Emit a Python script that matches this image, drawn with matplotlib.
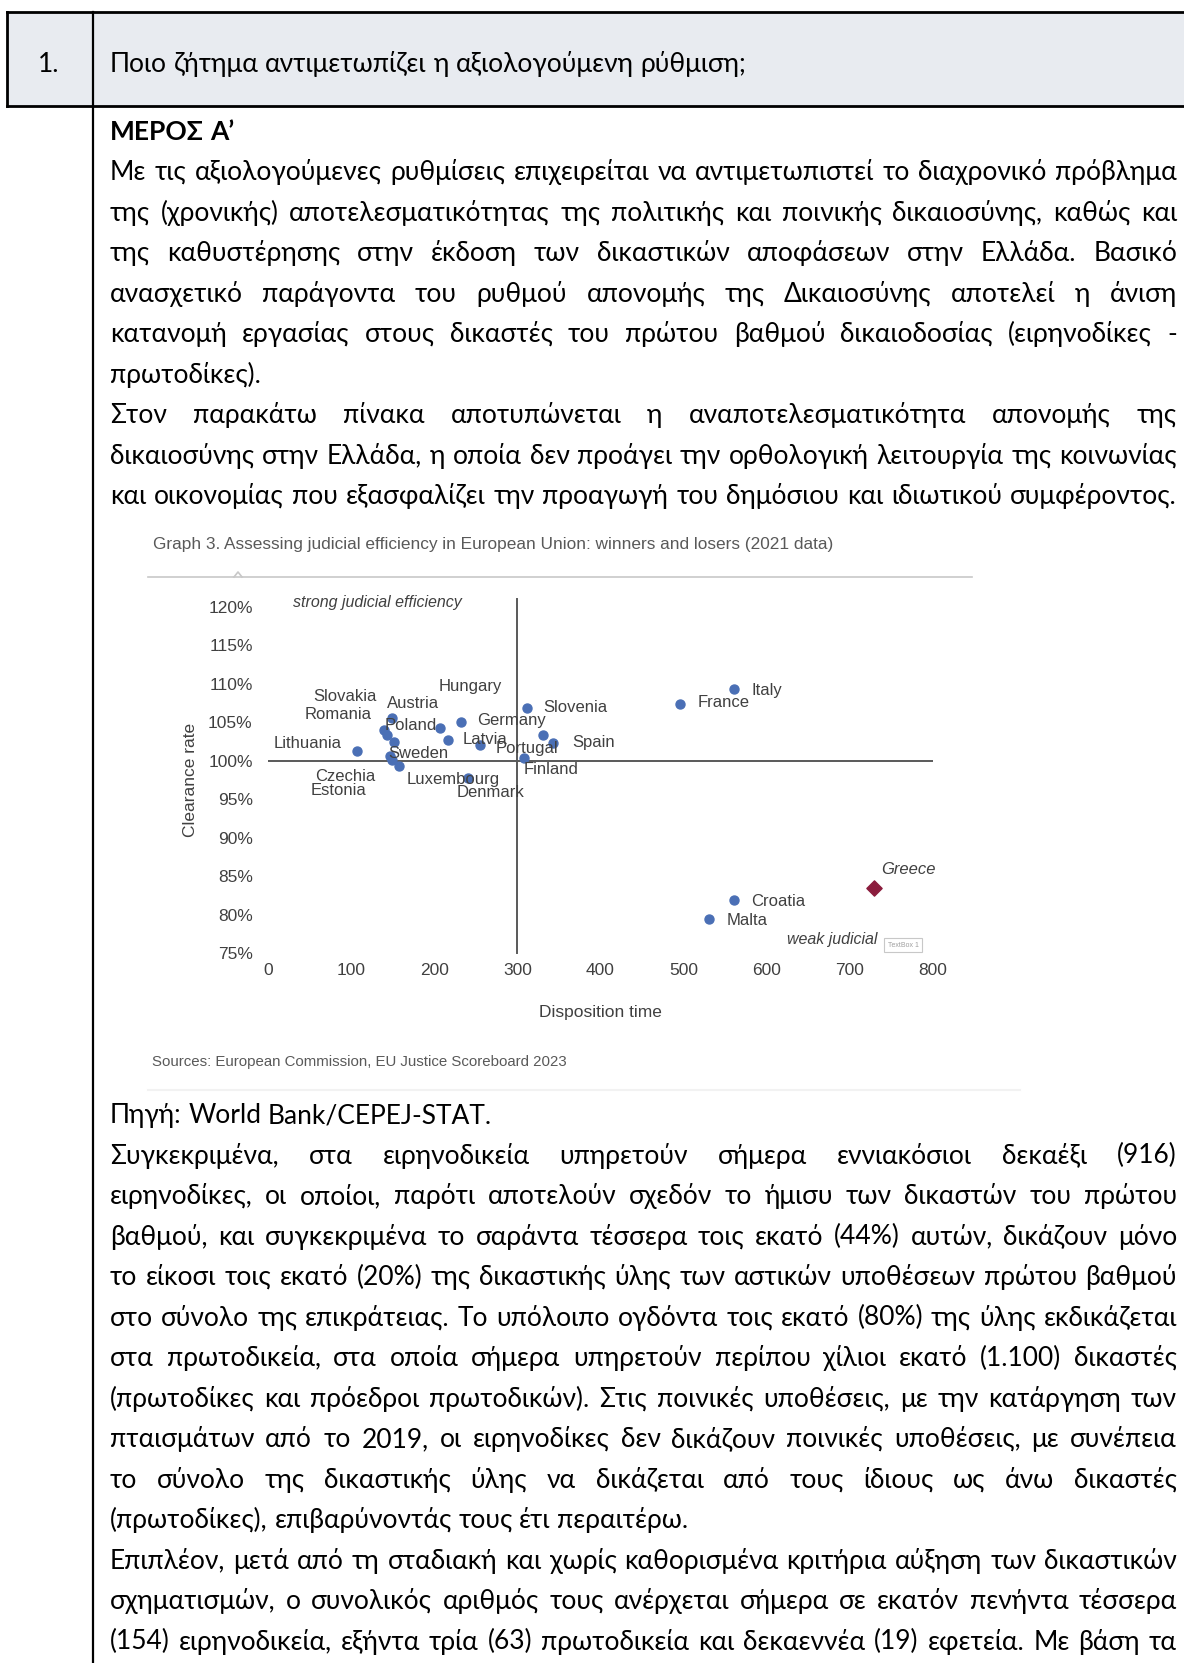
import matplotlib
matplotlib.use("Agg")
import matplotlib.pyplot as plt
from matplotlib import font_manager, ft2font

# ---- chart data: EU Justice Scoreboard 2023 (2021 data) ----
countries = ["Lithuania", "Slovakia", "Romania", "Austria", "Sweden", "Czechia", "Estonia",
             "Luxembourg", "Poland", "Germany", "Latvia", "Hungary", "Denmark", "Slovenia",
             "Portugal", "Finland", "Spain", "France", "Italy", "Croatia", "Malta"]
disposition = [107, 139, 143, 149, 151, 147, 149, 157, 207, 232, 217, 255, 241, 311,
               331, 308, 343, 496, 561, 561, 531]
clearance = [101.3, 104.0, 103.4, 105.5, 102.5, 100.6, 100.1, 99.3, 104.2, 105.0, 102.7,
             102.1, 97.7, 106.9, 103.3, 100.3, 102.3, 107.4, 109.4, 81.9, 79.4]
# where the data labels sit (label centres)
label_x = [48, 93, 84, 175, 181, 93, 85, 223, 172, 293, 261, 243, 268, 370,
           312, 340, 392, 548, 600, 614, 576]
label_y = [102.3, 108.3, 106.0, 107.5, 100.9, 97.9, 96.1, 97.6, 104.6, 105.3, 102.8,
           109.7, 95.9, 106.9, 101.6, 98.9, 102.4, 107.6, 109.2, 81.7, 79.2]
greece = ("Greece", 729, 83.5)
greece_label = (770, 85.8)

x_ticks = [0, 100, 200, 300, 400, 500, 600, 700, 800]
y_ticks = [75, 80, 85, 90, 95, 100, 105, 110, 115, 120]

# ---- document text ----
header_no = "1."
header_q = "Ποιο ζήτημα αντιμετωπίζει η αξιολογούμενη ρύθμιση;"
part_title = "ΜΕΡΟΣ Α’"
para_top = [
    ("Με τις αξιολογούμενες ρυθμίσεις επιχειρείται να αντιμετωπιστεί το διαχρονικό πρόβλημα", True),
    ("της (χρονικής) αποτελεσματικότητας της πολιτικής και ποινικής δικαιοσύνης, καθώς και", True),
    ("της καθυστέρησης στην έκδοση των δικαστικών αποφάσεων στην Ελλάδα. Βασικό", True),
    ("ανασχετικό παράγοντα του ρυθμού απονομής της Δικαιοσύνης αποτελεί η άνιση", True),
    ("κατανομή εργασίας στους δικαστές του πρώτου βαθμού δικαιοδοσίας (ειρηνοδίκες -", True),
    ("πρωτοδίκες).", False),
    ("Στον παρακάτω πίνακα αποτυπώνεται η αναποτελεσματικότητα απονομής της", True),
    ("δικαιοσύνης στην Ελλάδα, η οποία δεν προάγει την ορθολογική λειτουργία της κοινωνίας", True),
    ("και οικονομίας που εξασφαλίζει την προαγωγή του δημόσιου και ιδιωτικού συμφέροντος.", True),
]
para_bottom = [
    ("Πηγή: World Bank/CEPEJ-STAT.", False),
    ("Συγκεκριμένα, στα ειρηνοδικεία υπηρετούν σήμερα εννιακόσιοι δεκαέξι (916)", True),
    ("ειρηνοδίκες, οι οποίοι, παρότι αποτελούν σχεδόν το ήμισυ των δικαστών του πρώτου", True),
    ("βαθμού, και συγκεκριμένα το σαράντα τέσσερα τοις εκατό (44%) αυτών, δικάζουν μόνο", True),
    ("το είκοσι τοις εκατό (20%) της δικαστικής ύλης των αστικών υποθέσεων πρώτου βαθμού", True),
    ("στο σύνολο της επικράτειας. Το υπόλοιπο ογδόντα τοις εκατό (80%) της ύλης εκδικάζεται", True),
    ("στα πρωτοδικεία, στα οποία σήμερα υπηρετούν περίπου χίλιοι εκατό (1.100) δικαστές", True),
    ("(πρωτοδίκες και πρόεδροι πρωτοδικών). Στις ποινικές υποθέσεις, με την κατάργηση των", True),
    ("πταισμάτων από το 2019, οι ειρηνοδίκες δεν δικάζουν ποινικές υποθέσεις, με συνέπεια", True),
    ("το σύνολο της δικαστικής ύλης να δικάζεται από τους ίδιους ως άνω δικαστές", True),
    ("(πρωτοδίκες), επιβαρύνοντάς τους έτι περαιτέρω.", False),
    ("Επιπλέον, μετά από τη σταδιακή και χωρίς καθορισμένα κριτήρια αύξηση των δικαστικών", True),
    ("σχηματισμών, ο συνολικός αριθμός τους ανέρχεται σήμερα σε εκατόν πενήντα τέσσερα", True),
    ("(154) ειρηνοδικεία, εξήντα τρία (63) πρωτοδικεία και δεκαεννέα (19) εφετεία. Με βάση τα", True),
]


def has_greek(name):
    try:
        path = font_manager.findfont(name, fallback_to_default=False)
        return ft2font.FT2Font(path).get_char_index(ord("α")) != 0
    except Exception:
        return False


body_font = "DejaVu Sans"
for cand in ["Lato", "Roboto", "Noto Sans"]:
    if has_greek(cand):
        body_font = cand
        break
BODY = [body_font, "DejaVu Sans"]
CHART = ["Liberation Sans", "DejaVu Sans"]

W, H = 1184, 1663
fig = plt.figure(figsize=(W / 100, H / 100), dpi=100)
page = fig.add_axes([0, 0, 1, 1])
page.set_xlim(0, W)
page.set_ylim(H, 0)
page.axis("off")
renderer = fig.canvas.get_renderer()

# table frame
page.add_patch(plt.Rectangle((7, 12), W, 94, facecolor="#E8EBF0", edgecolor="none"))
page.plot([7, W], [12, 12], color="black", lw=2)
page.plot([7, W], [106, 106], color="black", lw=2)
page.plot([7, 7], [12, 106], color="black", lw=2)
page.plot([93, 93], [12, H], color="black", lw=1.6)

X0, X1 = 110, 1177


def width(s, size, weight="normal"):
    t = page.text(0, 0, s, fontsize=size, family=BODY, fontweight=weight)
    w = t.get_window_extent(renderer).width
    t.remove()
    return w


# pick the size at which the widest justified line just fits with normal spacing
widest = max(width(s, 20) for s, j in para_top + para_bottom if j)
size = 20 * (X1 - X0) * 0.99 / widest
space_w = width("a a", size) - width("aa", size)


def put_line(s, yc, justify, weight="normal", x0=X0):
    yb = yc + 0.36 * size * 100 / 72
    words = s.split(" ")
    objs = [page.text(0, yb, w, fontsize=size, family=BODY, fontweight=weight,
                      va="baseline", ha="left", color="black") for w in words]
    ws = [o.get_window_extent(renderer).width for o in objs]
    gap = (X1 - x0 - sum(ws)) / (len(ws) - 1) if justify and len(ws) > 1 else space_w
    x = x0
    for o, w in zip(objs, ws):
        o.set_x(x)
        x += w + gap


put_line(header_no, 62, False, x0=38)
put_line(header_q, 62, False)
put_line(part_title, 130, False, weight="bold")
S = 40.5
for i, (s, j) in enumerate(para_top):
    put_line(s, 130 + S * (i + 1), j)
last_y = 1640
for i, (s, j) in enumerate(para_bottom):
    put_line(s, last_y - S * (len(para_bottom) - 1 - i), j)

# ---- embedded chart ----
page.text(153, 545, "Graph 3. Assessing judicial efficiency in European Union: winners and losers (2021 data)",
          fontsize=12.4, family=CHART, color="#595959", va="center", ha="left")
page.plot([148, 972], [577, 577], color="#C8C8C8", lw=1.2)
page.plot([234, 238, 242], [577, 572, 577], color="#C8C8C8", lw=1.2)
page.text(152, 1062, "Sources: European Commission, EU Justice Scoreboard 2023",
          fontsize=10.8, family=CHART, color="#595959", va="center", ha="left")
page.plot([148, 1020], [1090, 1090], color="#F2F2F2", lw=1.5)

ax = fig.add_axes([268 / W, 1 - 953 / H, 665 / W, 346 / H])
ax.set_xlim(0, 800)
ax.set_ylim(75, 120)
for sp in ax.spines.values():
    sp.set_visible(False)
ax.set_xticks(x_ticks)
ax.set_xticklabels([str(v) for v in x_ticks])
ax.set_yticks(y_ticks)
ax.set_yticklabels([f"{v}%" for v in y_ticks])
ax.tick_params(length=0, labelsize=12.5, labelcolor="#404040")
ax.tick_params(axis="y", pad=11)
ax.tick_params(axis="x", pad=7)
for lab in ax.get_xticklabels() + ax.get_yticklabels():
    lab.set_family(CHART)

ax.plot([0, 800], [100, 100], color="#595959", lw=1.4)
ax.plot([300, 300], [75, 121], color="#595959", lw=1.4, clip_on=False)

ax.scatter(disposition, clearance, s=42, color="#4A6FB5", zorder=3, clip_on=False)
for name, lx, ly in zip(countries, label_x, label_y):
    ax.text(lx, ly, name, fontsize=12, family=CHART, color="#404040",
            ha="center", va="center", zorder=4)
ax.scatter([greece[1]], [greece[2]], s=60, marker="D", color="#8B1C3D", zorder=3)
ax.text(greece_label[0], greece_label[1], greece[0], fontsize=12, family=CHART,
        style="italic", color="#404040", ha="center", va="center")

ax.text(132, 120.6, "strong judicial efficiency", fontsize=11.5, family=CHART,
        style="italic", color="#404040", ha="center", va="center")
ax.text(679, 76.8, "weak judicial", fontsize=11.5, family=CHART,
        style="italic", color="#404040", ha="center", va="center")
ax.text(764, 76.0, "TextBox 1", fontsize=5, family=CHART, color="#A0A0A0",
        ha="center", va="center",
        bbox=dict(boxstyle="square,pad=0.5", facecolor="white", edgecolor="#C8C8C8", lw=0.8))

ax.set_xlabel("Disposition time", fontsize=12.5, family=CHART, color="#404040")
ax.xaxis.set_label_coords(0.5, -0.15)
ax.set_ylabel("Clearance rate", fontsize=12.5, family=CHART, color="#404040")
ax.yaxis.set_label_coords(-0.105, 0.5)

fig.savefig("out.png", dpi=100)
